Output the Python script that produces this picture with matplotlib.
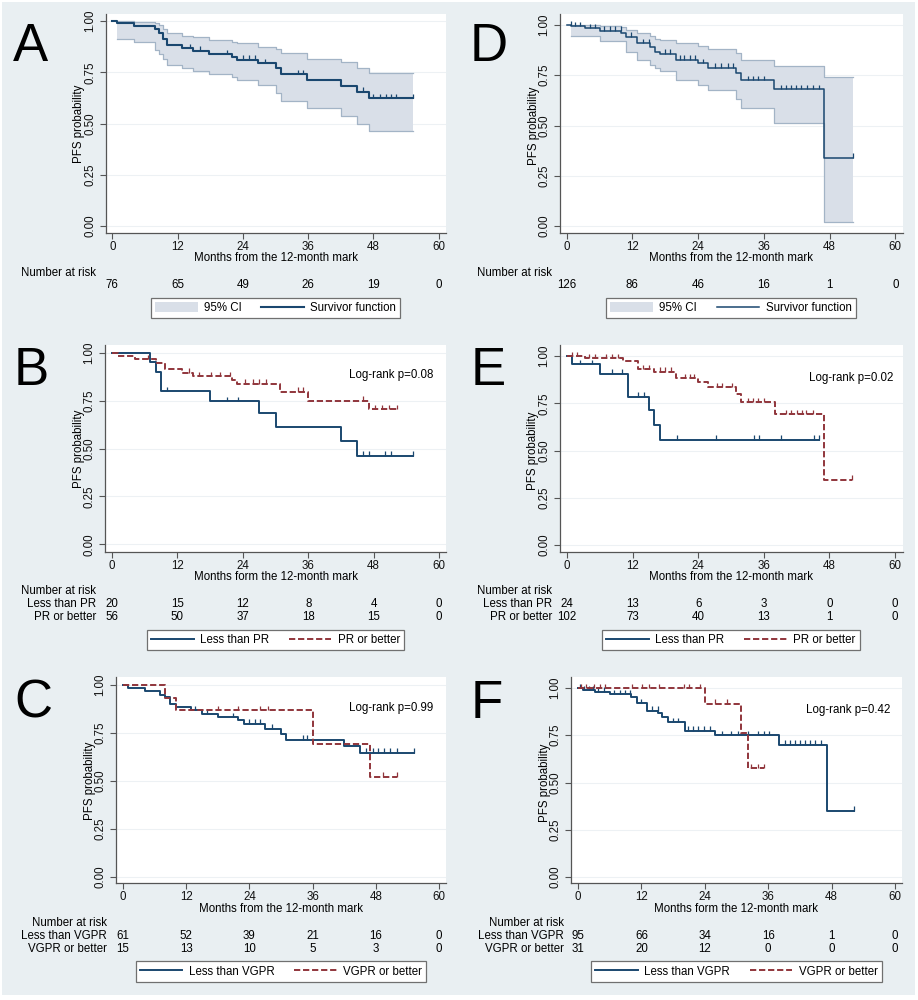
import numpy as np
import matplotlib.pyplot as plt
from matplotlib.patches import Rectangle, Patch
from matplotlib.transforms import blended_transform_factory

plt.rcParams['font.family'] = ['Liberation Sans', 'DejaVu Sans']
plt.rcParams['lines.scale_dashes'] = False

W, H = 918, 1000
BG = '#e9eff2'
NAVY = '#1a476f'
MAROON = '#90353b'
CI_FILL = '#d9dfe8'
CI_EDGE = '#a3b4c6'
AXC = '#555555'
GRID = '#edf1f4'
FS = 8.3
DASH = (0, (4.5, 2.0))

months = [0, 12, 24, 36, 48, 60]
yticks = [0, 0.25, 0.5, 0.75, 1.0]

# ---------------- A: whole cohort, 12-month mark
a_t = [0, 0.9, 4.0, 7.8, 8.5, 9.4, 10.0, 12.9, 14.9, 17.8, 22.0, 23.0, 26.8, 30.1, 31.0, 35.8, 42.0, 44.9, 47.1]
a_s = [1.0, 0.989, 0.976, 0.959, 0.940, 0.911, 0.883, 0.867, 0.855, 0.839, 0.823, 0.810, 0.793, 0.769, 0.741, 0.712, 0.683, 0.655, 0.624]
a_end = 55.2
a_cens = [14.2, 16.1, 21.0, 24.1, 25.2, 26.2, 28.1, 34.1, 35.0, 46.0, 48.0, 49.2, 50.3, 51.2, 52.1, 55.2]
a_ci_t = [0.9, 4.0, 7.8, 8.5, 9.4, 10.0, 12.9, 14.9, 17.8, 22.0, 23.0, 26.8, 30.1, 31.0, 35.8, 42.0, 44.9, 47.1]
a_hi = [0.998, 0.995, 0.990, 0.980, 0.960, 0.940, 0.928, 0.920, 0.909, 0.900, 0.891, 0.875, 0.862, 0.843, 0.813, 0.801, 0.772, 0.748]
a_lo = [0.910, 0.898, 0.860, 0.840, 0.815, 0.785, 0.770, 0.757, 0.740, 0.725, 0.710, 0.690, 0.650, 0.612, 0.575, 0.535, 0.500, 0.465]
a_risk = [76, 65, 49, 26, 19, 0]

# ---------------- D: whole cohort
d_t = [0, 0.85, 3.3, 6.0, 10.0, 10.9, 12.8, 15.2, 16.1, 17.0, 20.0, 24.0, 25.8, 31.0, 31.9, 37.9, 47.0]
d_s = [1.0, 0.995, 0.983, 0.972, 0.962, 0.942, 0.909, 0.892, 0.867, 0.856, 0.826, 0.809, 0.788, 0.760, 0.726, 0.680, 0.340]
d_end = 52.2
d_cens = [0.7, 1.6, 2.4, 4.2, 5.1, 6.9, 7.9, 8.8, 9.9, 11.8, 13.9, 15.0, 17.9, 18.8, 20.6, 21.5, 22.5, 23.4,
          24.9, 27.0, 28.2, 29.5, 30.4, 33.1, 34.0, 34.9, 36.0, 39.2, 40.1, 41.0, 41.9, 42.8, 43.8, 45.0, 46.0, 52.2]
d_ci_t = [0.85, 3.3, 6.0, 10.0, 10.9, 12.8, 15.2, 16.1, 17.0, 20.0, 24.0, 25.8, 31.0, 31.9, 37.9, 47.0]
d_hi = [1.0, 0.998, 0.995, 0.990, 0.975, 0.958, 0.945, 0.930, 0.925, 0.910, 0.895, 0.880, 0.862, 0.826, 0.798, 0.743]
d_lo = [0.945, 0.945, 0.922, 0.922, 0.867, 0.826, 0.800, 0.784, 0.773, 0.726, 0.701, 0.677, 0.630, 0.585, 0.511, 0.022]
d_risk = [126, 86, 46, 16, 1, 0]

# ---------------- B: less than PR vs PR or better
b1_t = [0, 7.05, 8.0, 9.0, 18.0, 27.0, 30.0, 42.0, 45.0]
b1_s = [1.0, 0.95, 0.90, 0.80, 0.746, 0.683, 0.614, 0.537, 0.461]
b1_end = 55.2
b1_cens = [10.1, 21.1, 23.2, 46.1, 47.2, 50.1, 51.2, 55.2]
b2_t = [0, 1.1, 4.2, 8.0, 9.8, 12.9, 14.9, 22.1, 23.0, 30.8, 36.0, 47.1]
b2_s = [1.0, 0.984, 0.965, 0.948, 0.913, 0.896, 0.878, 0.857, 0.837, 0.797, 0.750, 0.704]
b2_end = 52.3
b2_cens = [6.6, 14.1, 15.9, 18.1, 19.8, 21.6, 24.4, 25.8, 27.0, 28.2, 34.1, 35.1, 46.0, 48.3, 49.5, 50.9, 52.3]
b_risk1 = [20, 15, 12, 8, 4, 0]
b_risk2 = [56, 50, 37, 18, 15, 0]

# ---------------- E: less than PR vs PR or better
e1_t = [0, 1.0, 6.0, 11.1, 15.0, 16.0, 17.1]
e1_s = [1.0, 0.956, 0.907, 0.785, 0.714, 0.635, 0.556]
e1_end = 46.1
e1_cens = [2.4, 4.5, 8.2, 10.0, 13.0, 14.1, 20.2, 27.2, 34.2, 35.1, 39.1, 45.1, 46.1]
e2_t = [0, 3.3, 10.3, 13.0, 16.0, 20.0, 24.0, 25.8, 31.0, 31.9, 38.0, 47.1]
e2_s = [1.0, 0.988, 0.975, 0.931, 0.917, 0.882, 0.861, 0.834, 0.797, 0.755, 0.691, 0.346]
e2_end = 52.2
e2_cens = [0.85, 1.9, 4.0, 5.1, 7.2, 8.2, 9.3, 13.9, 15.0, 17.0, 17.9, 19.1, 21.6, 22.5, 23.3, 27.5, 28.3,
           30.1, 33.1, 34.0, 35.0, 36.1, 40.1, 41.0, 42.0, 42.9, 43.8, 45.0, 52.2]
e_risk1 = [24, 13, 6, 3, 0, 0]
e_risk2 = [102, 73, 40, 13, 1, 0]

# ---------------- C: less than VGPR vs VGPR or better
c1_t = [0, 0.95, 4.1, 7.0, 7.9, 8.9, 10.0, 13.0, 15.0, 18.1, 21.9, 23.0, 26.9, 30.0, 30.9, 42.0, 45.0]
c1_s = [1.0, 0.984, 0.967, 0.950, 0.937, 0.903, 0.885, 0.868, 0.851, 0.833, 0.816, 0.799, 0.773, 0.747, 0.715, 0.681, 0.646]
c1_end = 55.2
c1_cens = [13.6, 15.9, 20.9, 24.0, 25.0, 26.1, 28.2, 34.1, 34.9, 46.2, 47.4, 48.5, 49.6, 50.7, 52.0, 55.2]
c2_t = [0, 8.05, 10.0, 36.0, 46.9]
c2_s = [1.0, 0.934, 0.868, 0.694, 0.521]
c2_end = 52.1
c2_cens = [18.1, 21.9, 26.0, 27.6, 49.3, 52.1]
c_risk1 = [61, 52, 39, 21, 16, 0]
c_risk2 = [15, 13, 10, 5, 3, 0]

# ---------------- F: less than VGPR vs VGPR or better
f1_t = [0, 0.9, 3.2, 6.0, 10.1, 11.1, 13.0, 15.2, 15.9, 17.1, 20.2, 26.0, 38.1, 47.1]
f1_s = [1.0, 0.989, 0.979, 0.966, 0.950, 0.920, 0.880, 0.867, 0.846, 0.818, 0.775, 0.750, 0.699, 0.350]
f1_end = 52.2
f1_cens = [0.4, 1.2, 2.1, 2.9, 3.8, 4.9, 6.9, 7.9, 8.9, 9.8, 12.0, 14.1, 15.1, 18.0, 19.0, 20.9, 21.8, 22.7,
           23.9, 25.0, 27.2, 29.0, 30.3, 32.2, 34.1, 35.2, 36.1, 39.1, 40.1, 41.0, 42.0, 42.9, 43.9, 44.8, 45.9, 52.2]
f2_t = [0, 24.0, 30.9, 32.1]
f2_s = [1.0, 0.917, 0.761, 0.575]
f2_end = 35.2
f2_cens = [0.5, 1.6, 3.0, 4.2, 5.1, 10.2, 12.2, 13.4, 15.4, 20.0, 21.0, 23.0, 25.9, 28.2, 32.8, 34.1, 35.2]
f_risk1 = [95, 66, 34, 16, 1, 0]
f_risk2 = [31, 20, 12, 0, 0, 0]

fig = plt.figure(figsize=(W / 100, H / 100), dpi=100)
fig.patches.append(Rectangle((2 / W, 5 / H), 913 / W, 993 / H, transform=fig.transFigure,
                             facecolor=BG, edgecolor='none', zorder=-10))


def fx(x):
    return x / W


def fy(y):
    return 1 - y / H


def make_axes(box, xmap, ymap):
    l, t, r, b = box
    ax = fig.add_axes([fx(l), fy(b), (r - l) / W, (b - t) / H])
    ppm = (xmap[1] - xmap[0]) / 60.0
    ppu = ymap[1] - ymap[0]
    ax.set_xlim((l - xmap[0]) / ppm, (r - xmap[0]) / ppm)
    ax.set_ylim(1 - (b - ymap[0]) / ppu, 1 + (ymap[0] - t) / ppu)
    ax.set_facecolor('white')
    for side in ['top', 'right']:
        ax.spines[side].set_visible(False)
    for side in ['left', 'bottom']:
        ax.spines[side].set_color(AXC)
        ax.spines[side].set_linewidth(0.9)
    ax.set_xticks(months)
    ax.set_yticks(yticks)
    ax.set_yticklabels(['%.2f' % v for v in yticks])
    ax.tick_params(axis='both', direction='out', length=4.5, width=0.8, color=AXC,
                   labelsize=FS, labelcolor='#111111')
    ax.tick_params(axis='x', pad=1.5)
    ax.tick_params(axis='y', pad=2.5, labelrotation=90)
    for lb in ax.get_yticklabels():
        lb.set_va('center')
    ax.yaxis.grid(True, color=GRID, lw=0.8)
    ax.set_axisbelow(True)
    return ax, 4.5 / ppu


def km(ax, t, s, end, cens, color, ls, lw, h):
    x = list(t) + [end]
    y = list(s) + [s[-1]]
    line, = ax.step(x, y, where='post', color=color, lw=lw, ls=ls, zorder=4)
    idx = np.searchsorted(t, cens, side='right') - 1
    sv = np.array(s)[idx]
    ax.vlines(cens, sv, sv + h, color=color, lw=0.9, zorder=4)
    return line


def ci_band(ax, t, lo, hi, end):
    x = list(t) + [end]
    lo2 = list(lo) + [lo[-1]]
    hi2 = list(hi) + [hi[-1]]
    ax.fill_between(x, lo2, hi2, step='post', facecolor=CI_FILL, lw=0, zorder=2)
    ax.step(x, lo2, where='post', color=CI_EDGE, lw=0.9, zorder=3)
    ax.step(x, hi2, where='post', color=CI_EDGE, lw=0.9, zorder=3)


def decorate(ax, lay, xlab, risk_names, risk_rows, handles, labels, logrank=None):
    xmap, ymap = lay['xmap'], lay['ymap']
    fig.text(fx(lay['letter'][0]), fy(lay['letter'][1]), lay['name'], fontsize=38,
             ha='center', va='baseline', color='black')
    fig.text(fx(lay['ylab_x']), fy((ymap[0] + ymap[1]) / 2), 'PFS probability', rotation=90,
             fontsize=FS, ha='center', va='center')
    fig.text(fx((xmap[0] + xmap[1]) / 2), fy(lay['xlab_y']), xlab, fontsize=FS,
             ha='center', va='center')
    ry = lay['risk_y']
    fig.text(fx(lay['risk_x']), fy(ry[0]), 'Number at risk', fontsize=FS, ha='right', va='center')
    tr = blended_transform_factory(ax.transData, fig.transFigure)
    for k, (nm, row) in enumerate(zip(risk_names, risk_rows)):
        yy = fy(ry[k + 1])
        if nm:
            fig.text(fx(lay['risk_x']), yy, nm, fontsize=FS, ha='right', va='center')
        for m, n in zip(months, row):
            ax.text(m, yy, str(n), transform=tr, fontsize=FS, ha='center', va='center')
    lb = lay['legend']
    leg = fig.legend(handles, labels, loc='center', ncol=2,
                     bbox_to_anchor=(fx((lb[0] + lb[2]) / 2), fy((lb[1] + lb[3]) / 2)),
                     bbox_transform=fig.transFigure, fontsize=FS, frameon=True, fancybox=False,
                     edgecolor='#707070', facecolor='white', framealpha=1, borderpad=0.35,
                     handlelength=3.7, handleheight=1.0, handletextpad=0.55, columnspacing=1.7)
    leg.get_frame().set_linewidth(0.9)
    if logrank:
        fig.text(fx(lay['lr'][0]), fy(lay['lr'][1]), logrank, fontsize=FS, ha='right', va='center')


layouts = {
    'A': dict(name='A', box=(106, 14, 446, 233), xmap=(112.3, 438.7), ymap=(21, 226), letter=(30, 61),
              ylab_x=79, xlab_y=258, risk_x=96, risk_y=[273, 285], legend=(148, 298, 403, 318)),
    'D': dict(name='D', box=(560, 14, 903, 233), xmap=(566.7, 895.3), ymap=(25, 226), letter=(489, 61),
              ylab_x=534, xlab_y=258, risk_x=552, risk_y=[273, 285], legend=(603, 298, 859, 318)),
    'B': dict(name='B', box=(105, 345, 446, 552), xmap=(112, 439), ymap=(352.7, 544.3), letter=(31, 385),
              ylab_x=79, xlab_y=577, risk_x=96, risk_y=[591, 604, 617], legend=(144, 629, 407, 651),
              lr=(433, 375)),
    'E': dict(name='E', box=(560, 345, 903, 552), xmap=(567, 895), ymap=(356, 545), letter=(488, 385),
              ylab_x=533, xlab_y=577, risk_x=552, risk_y=[591, 604, 617], legend=(599, 629, 863, 651),
              lr=(893, 378)),
    'C': dict(name='C', box=(116, 677, 446, 883), xmap=(123, 439), ymap=(685, 877), letter=(33, 718),
              ylab_x=90, xlab_y=909, risk_x=107, risk_y=[923, 936, 949], legend=(132, 961, 430, 982),
              lr=(433, 708)),
    'F': dict(name='F', box=(571, 677, 902, 883), xmap=(578, 895), ymap=(688, 877), letter=(487, 718),
              ylab_x=545, xlab_y=909, risk_x=564, risk_y=[923, 936, 949], legend=(587, 961, 886, 982),
              lr=(890, 710)),
}

ci_patch = Patch(facecolor=CI_FILL, edgecolor='none')

# A
lay = layouts['A']
ax, h = make_axes(lay['box'], lay['xmap'], lay['ymap'])
ci_band(ax, a_ci_t, a_lo, a_hi, a_end)
ln = km(ax, a_t, a_s, a_end, a_cens, NAVY, '-', 1.5, h)
decorate(ax, lay, 'Months from the 12-month mark', [''], [a_risk],
         [ci_patch, ln], ['95% CI', 'Survivor function'])

# D
lay = layouts['D']
ax, h = make_axes(lay['box'], lay['xmap'], lay['ymap'])
ci_band(ax, d_ci_t, d_lo, d_hi, d_end)
ln = km(ax, d_t, d_s, d_end, d_cens, NAVY, '-', 1.1, h)
decorate(ax, lay, 'Months from the 12-month mark', [''], [d_risk],
         [ci_patch, ln], ['95% CI', 'Survivor function'])

# B
lay = layouts['B']
ax, h = make_axes(lay['box'], lay['xmap'], lay['ymap'])
l1 = km(ax, b1_t, b1_s, b1_end, b1_cens, NAVY, '-', 1.4, h)
l2 = km(ax, b2_t, b2_s, b2_end, b2_cens, MAROON, DASH, 1.4, h)
decorate(ax, lay, 'Months form the 12-month mark', ['Less than PR', 'PR or better'], [b_risk1, b_risk2],
         [l1, l2], ['Less than PR', 'PR or better'], 'Log-rank p=0.08')

# E
lay = layouts['E']
ax, h = make_axes(lay['box'], lay['xmap'], lay['ymap'])
l1 = km(ax, e1_t, e1_s, e1_end, e1_cens, NAVY, '-', 1.4, h)
l2 = km(ax, e2_t, e2_s, e2_end, e2_cens, MAROON, DASH, 1.4, h)
decorate(ax, lay, 'Months from the 12-month mark', ['Less than PR', 'PR or better'], [e_risk1, e_risk2],
         [l1, l2], ['Less than PR', 'PR or better'], 'Log-rank p=0.02')

# C
lay = layouts['C']
ax, h = make_axes(lay['box'], lay['xmap'], lay['ymap'])
l1 = km(ax, c1_t, c1_s, c1_end, c1_cens, NAVY, '-', 1.4, h)
l2 = km(ax, c2_t, c2_s, c2_end, c2_cens, MAROON, DASH, 1.4, h)
decorate(ax, lay, 'Months from the 12-month mark', ['Less than VGPR', 'VGPR or better'], [c_risk1, c_risk2],
         [l1, l2], ['Less than VGPR', 'VGPR or better'], 'Log-rank p=0.99')

# F
lay = layouts['F']
ax, h = make_axes(lay['box'], lay['xmap'], lay['ymap'])
l1 = km(ax, f1_t, f1_s, f1_end, f1_cens, NAVY, '-', 1.4, h)
l2 = km(ax, f2_t, f2_s, f2_end, f2_cens, MAROON, DASH, 1.4, h)
decorate(ax, lay, 'Months form the 12-month mark', ['Less than VGPR', 'VGPR or better'], [f_risk1, f_risk2],
         [l1, l2], ['Less than VGPR', 'VGPR or better'], 'Log-rank p=0.42')

fig.savefig('out.png', dpi=100, facecolor='white')
